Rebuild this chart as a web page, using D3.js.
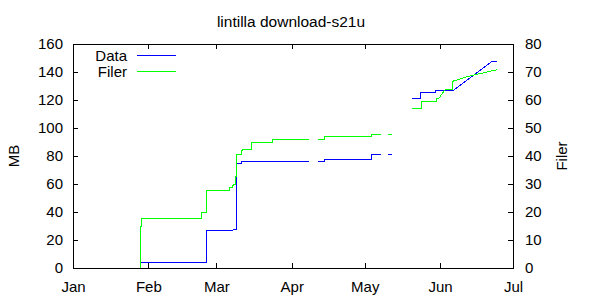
<!DOCTYPE html>
<html lang="en">
<head>
<meta charset="UTF-8">
<title>lintilla download-s21u</title>
<style type="text/css">
  body { margin: 0; background: #fff; }
  text { font-family: "Liberation Sans", Arial, sans-serif; font-size: 15px; fill: #000; }
</style>
<script src="https://cdn.jsdelivr.net/npm/d3@7"></script>
</head>
<body>
<script type="text/javascript">
// Data (MB) series, null = gap in the log
var dataTimes = [
  '2013-01-28 21:00', '2013-01-28 22:00', '2013-02-25 02:00', '2013-02-25 03:00',
  '2013-03-07 19:00', '2013-03-07 20:00', '2013-03-09 02:00', '2013-03-09 03:00',
  '2013-03-09 05:00', '2013-03-09 06:00', '2013-03-11 04:00', '2013-03-11 05:00',
  '2013-04-07 22:00', '2013-04-09 12:00',
  '2013-04-11 17:00', '2013-04-14 07:00', '2013-04-14 08:00', '2013-05-03 17:00',
  '2013-05-03 18:00', '2013-05-07 12:00', '2013-05-09 00:00',
  '2013-05-10 12:00', '2013-05-12 05:00', '2013-05-16 00:00',
  '2013-05-20 12:00', '2013-05-24 02:00', '2013-05-24 03:00', '2013-05-30 05:00',
  '2013-05-30 06:00', '2013-06-06 05:00', '2013-06-22 05:00', '2013-06-24 07:00'
];
var dataMB = [
  0, 3.7, 3.7, 26.8,
  26.8, 27.5, 27.5, 53.6,
  53.6, 74.4, 74.4, 75.9,
  75.9, null,
  75.9, 75.9, 77.3, 77.3,
  81.0, 81.0, null,
  81.0, 81.0, null,
  120.9, 120.9, 125.6, 125.6,
  126.6, 126.6, 147.3, 147.3
];

// Filer (file count) series
var filerTimes = [
  '2013-01-28 21:00', '2013-01-28 22:00', '2013-01-29 07:00', '2013-01-29 08:00',
  '2013-02-23 00:00', '2013-02-23 01:00', '2013-02-25 02:00', '2013-02-25 03:00',
  '2013-03-06 05:00', '2013-03-06 06:00', '2013-03-07 19:00', '2013-03-07 20:00',
  '2013-03-08 22:00', '2013-03-08 23:00', '2013-03-09 07:00', '2013-03-09 08:00',
  '2013-03-11 12:00', '2013-03-11 13:00', '2013-03-15 14:00', '2013-03-15 15:00',
  '2013-03-24 00:00', '2013-03-24 01:00', '2013-04-07 22:00', '2013-04-09 12:00',
  '2013-04-11 17:00', '2013-04-14 07:00', '2013-04-14 08:00', '2013-05-03 17:00',
  '2013-05-03 18:00', '2013-05-07 12:00', '2013-05-09 00:00',
  '2013-05-10 12:00', '2013-05-12 05:00', '2013-05-16 00:00',
  '2013-05-20 12:00', '2013-05-24 09:00', '2013-05-24 10:00', '2013-05-30 14:00',
  '2013-05-30 15:00', '2013-05-31 12:00', '2013-06-03 00:00', '2013-06-06 04:00',
  '2013-06-06 05:00', '2013-06-13 07:00', '2013-06-24 07:00'
];
var filerCount = [
  0, 14.7, 14.7, 17.6,
  17.6, 19.8, 19.8, 27.6,
  27.6, 28.6, 28.6, 29.8,
  29.8, 32.6, 32.6, 40.6,
  40.6, 42.5, 42.5, 44.7,
  44.7, 45.8, 45.8, null,
  45.8, 45.8, 46.9, 46.9,
  47.6, 47.6, null,
  47.6, 47.6, null,
  56.9, 56.9, 59.6, 59.6,
  60.6, 60.6, 63.6, 63.6,
  66.7, 68.6, 70.8
];

var yTicks = [0, 20, 40, 60, 80, 100, 120, 140, 160];
var y2Ticks = [0, 10, 20, 30, 40, 50, 60, 70, 80];
var xStart = '2013-01-01', xEnd = '2013-07-01';
var seriesNames = ['Data', 'Filer'];
var seriesColors = ['#0000ff', '#00ff00'];

var width = 600, height = 300;
var plot = {left: 73, right: 513, top: 44, bottom: 268};

var parseTime = d3.timeParse('%Y-%m-%d %H:%M');
var parseDay = d3.timeParse('%Y-%m-%d');

var svg = d3.select('body').append('svg')
  .attr('width', width)
  .attr('height', height);

var x = d3.scaleTime()
  .domain([parseDay(xStart), parseDay(xEnd)])
  .range([plot.left, plot.right]);
var y = d3.scaleLinear().domain([0, 160]).range([plot.bottom, plot.top]);
var y2 = d3.scaleLinear().domain([0, 80]).range([plot.bottom, plot.top]);

// axes, ticks pointing inwards like gnuplot
svg.append('g').attr('transform', 'translate(0,' + plot.bottom + ')')
  .call(d3.axisBottom(x).ticks(d3.timeMonth.every(1)).tickFormat(d3.timeFormat('%b'))
    .tickSizeInner(-5).tickSizeOuter(0).tickPadding(13));
svg.append('g').attr('transform', 'translate(0,' + plot.top + ')')
  .call(d3.axisTop(x).ticks(d3.timeMonth.every(1)).tickFormat('')
    .tickSizeInner(-5).tickSizeOuter(0));
svg.append('g').attr('transform', 'translate(' + plot.left + ',0)')
  .call(d3.axisLeft(y).tickValues(yTicks).tickSizeInner(-5).tickSizeOuter(0).tickPadding(10));
svg.append('g').attr('transform', 'translate(' + plot.right + ',0)')
  .call(d3.axisRight(y2).tickValues(y2Ticks).tickSizeInner(-5).tickSizeOuter(0).tickPadding(12));

svg.selectAll('.domain').remove();
svg.selectAll('.tick line').attr('stroke', '#000').attr('shape-rendering', 'crispEdges');
svg.selectAll('g').attr('font-size', null).attr('font-family', null);

svg.append('rect')
  .attr('x', plot.left).attr('y', plot.top)
  .attr('width', plot.right - plot.left).attr('height', plot.bottom - plot.top)
  .attr('fill', 'none').attr('stroke', '#000')
  .attr('shape-rendering', 'crispEdges');

// lines
function points(times, values) {
  return times.map(function(t, i) { return {t: parseTime(t), v: values[i]}; });
}
var lineY = d3.line()
  .defined(function(d) { return d.v != null; })
  .x(function(d) { return x(d.t); })
  .y(function(d) { return y(d.v); });
var lineY2 = d3.line()
  .defined(function(d) { return d.v != null; })
  .x(function(d) { return x(d.t); })
  .y(function(d) { return y2(d.v); });

svg.append('path')
  .attr('d', lineY(points(dataTimes, dataMB)))
  .attr('fill', 'none').attr('stroke', seriesColors[0]).attr('stroke-width', 1)
  .attr('shape-rendering', 'crispEdges');
svg.append('path')
  .attr('d', lineY2(points(filerTimes, filerCount)))
  .attr('fill', 'none').attr('stroke', seriesColors[1]).attr('stroke-width', 1)
  .attr('shape-rendering', 'crispEdges');

// legend
var legend = svg.selectAll('.legend')
  .data(seriesNames)
  .enter()
  .append('g')
  .attr('class', 'legend')
  .attr('transform', function(d, i) { return 'translate(0,' + (55.5 + i * 16) + ')'; });
legend.append('text')
  .attr('x', 127).attr('dy', '0.35em')
  .attr('text-anchor', 'end')
  .text(function(d) { return d; });
legend.append('line')
  .attr('x1', 137).attr('x2', 176)
  .attr('y1', 0).attr('y2', 0)
  .style('stroke', function(d) { return seriesColors[seriesNames.indexOf(d)]; })
  .attr('shape-rendering', 'crispEdges');

// titles
svg.append('text')
  .attr('x', 291).attr('y', 26.5)
  .attr('text-anchor', 'middle')
  .style('font-size', '15.5px')
  .text('lintilla download-s21u');
svg.append('text')
  .attr('transform', 'translate(14,156) rotate(-90)')
  .attr('text-anchor', 'middle').attr('dy', '0.35em')
  .text('MB');
svg.append('text')
  .attr('transform', 'translate(562,156) rotate(-90)')
  .attr('text-anchor', 'middle').attr('dy', '0.35em')
  .text('Filer');
</script>
</body>
</html>
